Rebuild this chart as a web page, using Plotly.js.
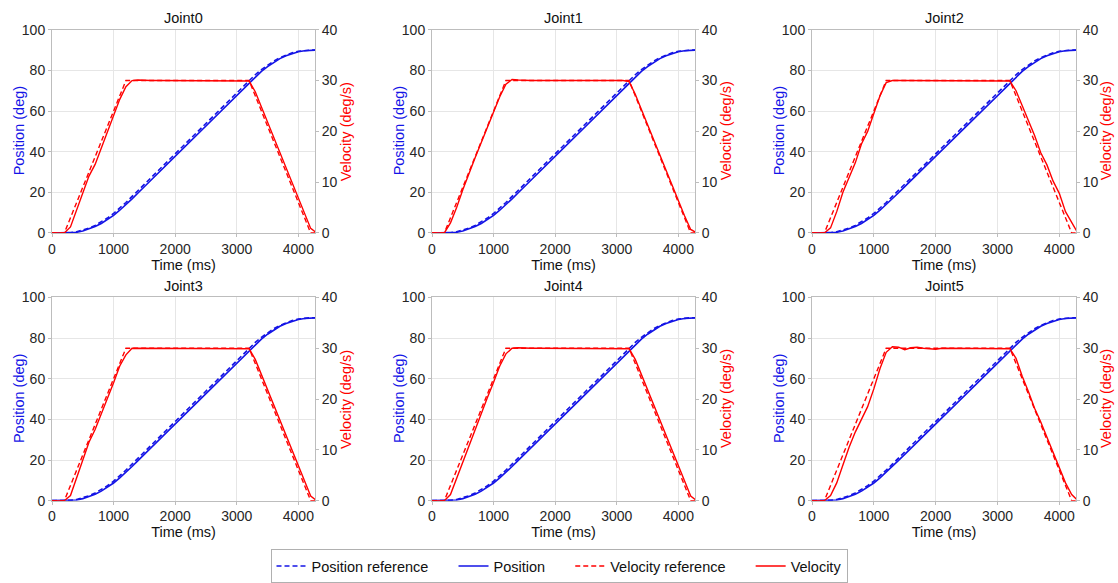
<!DOCTYPE html>
<html>
<head>
<meta charset="utf-8">
<script src="https://cdn.plot.ly/plotly-3.0.1.min.js"></script>
<style>html,body{margin:0;padding:0;background:#fff;}#chart{width:1118px;height:583px;}</style>
</head>
<body>
<div id="chart"></div>
<script>
// ---- data ----
const jointNames = ["Joint0", "Joint1", "Joint2", "Joint3", "Joint4", "Joint5"];

// time samples (ms)
const time = [0,100,200,300,400,500,600,700,800,900,1000,1100,1200,1300,1400,1500,1600,1700,1800,1900,2000,2100,2200,2300,2400,2500,2600,2700,2800,2900,3000,3100,3200,3300,3400,3500,3600,3700,3800,3900,4000,4100,4200,4300];

// reference position (deg), same for all joints
const positionReference = [0,0,0,0.15,0.6,1.35,2.4,3.75,5.4,7.35,9.6,12.15,15,18,21,24,27,30,33,36,39,42,45,48,51,54,57,60,63,66,69,72,75,77.85,80.4,82.65,84.6,86.25,87.6,88.65,89.4,89.85,90,90];

// measured position (deg)
const positionMeasured = [0,0,0,0.05,0.35,1,1.95,3.2,4.7,6.55,8.7,11.2,13.9,16.8,19.8,22.8,25.8,28.8,31.8,34.8,37.8,40.8,43.8,46.8,49.8,52.8,55.8,58.8,61.8,64.8,67.8,70.8,73.8,76.8,79.5,81.9,84,85.8,87.2,88.35,89.15,89.65,89.9,90];

// reference velocity (deg/s), same for all joints
const velocityReference = [0,0,0,3,6,9,12,15,18,21,24,27,30,30,30,30,30,30,30,30,30,30,30,30,30,30,30,30,30,30,30,30,30,27,24,21,18,15,12,9,6,3,0,0];

// measured velocity (deg/s), one list per joint
const velocityJoint0 = [0,0,0,1.2,4.5,8,11.2,13.5,16.8,20,23,26.3,28.8,30,30.1,30,30,30,30,30,30,30,30,30,30,30,30,30,30,30,30,30,29.9,27.8,24.8,21.8,18.7,15.6,12.6,9.6,6.6,3.8,0.9,0];
const velocityJoint1 = [0,0,0,2,5,8.5,11.8,14.8,17.8,20.8,23.8,26.8,29.3,30.2,30.1,30,30,30,30,30,30,30,30,30,30,30,30,30,30,30,30,30,29.8,27.3,24.3,21.3,18.3,15.3,12.3,9.3,6.3,3.4,0.7,0];
const velocityJoint2 = [0,0,0,1,4.2,8,10.8,13.8,17.5,20,23.5,27,29.6,30,30,30,30,30,30,30,30,30,30,30,30,30,30,30,30,30,30,30,29.9,28,25,22,19.2,15.8,13.4,10.2,7.8,4.2,2.2,0];
const velocityJoint3 = [0,0,0,1,4.5,8,11.5,14,17,20.2,23.2,26.5,28.7,30,30,30,30,30,30,30,30,30,30,30,30,30,30,30,30,30,30,30,29.9,27.8,24.8,21.8,18.8,15.8,12.7,9.7,6.7,3.8,0.9,0];
const velocityJoint4 = [0,0,0,1.2,4.4,7.8,11,14,17.2,20.3,23.3,26.5,28.9,30,30.1,30,30,30,30,30,30,30,30,30,30,30,30,30,30,30,30,30,29.9,27.8,24.8,21.8,18.8,15.7,12.7,9.7,6.7,3.7,0.9,0];
const velocityJoint5 = [0,0,0,1,3.5,7,10.5,13.5,16,18.5,22,26,29.2,30.3,30.2,29.7,30.1,30.2,30,29.9,29.8,30,30,30,30,30,30,30,30,30,30,30,29.9,28,24.5,21.5,18.2,15.5,12.5,9.5,6.5,3.5,1.2,0];
const velocityMeasured = [velocityJoint0, velocityJoint1, velocityJoint2, velocityJoint3, velocityJoint4, velocityJoint5];

const xTickValues = [0,1000,2000,3000,4000];
const posTickValues = [0,20,40,60,80,100];
const velTickValues = [0,10,20,30,40];

// ---- styling / layout ----
const BLUE = "#1414e6";
const RED = "#ff0000";
const DASH = "5px,3px";
const FONT = "Liberation Sans, Arial, Helvetica, sans-serif";
const W = 1118, H = 583;
const colPx = [[52,315],[432,695],[812,1076]];
const rowPx = [[30,235],[300,505]];
const SP = "\u00a0\u00a0\u00a0\u00a0\u00a0";

const traces = [];
const layout = {
  width: W, height: H,
  margin: {l:0, r:0, t:0, b:0},
  paper_bgcolor: "#fff", plot_bgcolor: "#fff",
  font: {family: FONT, size: 14, color: "#262626"},
  showlegend: true,
  legend: {
    orientation: "h", x: 0.5, xanchor: "center", y: 1 - 554/H, yanchor: "top",
    bordercolor: "#b0b0b0", borderwidth: 1, font: {size: 14.5, color: "#111"},
    traceorder: "normal", itemwidth: 30
  },
  annotations: []
};

for (let i = 0; i < 6; i++) {
  const col = i % 3, row = Math.floor(i / 3);
  const xd = [colPx[col][0]/W, colPx[col][1]/W];
  const yd = [1 - rowPx[row][1]/H, 1 - rowPx[row][0]/H];
  const yMid = 1 - (rowPx[row][0] + rowPx[row][1]) / 2 / H;
  const xName = i === 0 ? "x" : "x" + (i+1);
  const yL = "y" + (i === 0 ? "" : (2*i+1));
  const yR = "y" + (2*i+2);
  const xKey = "xaxis" + (i === 0 ? "" : (i+1));
  const yLKey = "yaxis" + (i === 0 ? "" : (2*i+1));
  const yRKey = "yaxis" + (2*i+2);

  layout[xKey] = {
    domain: xd, anchor: yL, range: [0, 4270], tickvals: xTickValues,
    showgrid: true, gridcolor: "#e6e6e6", zeroline: false,
    showline: true, mirror: true, linecolor: "#bdbdbd", linewidth: 1,
    ticks: "outside", ticklen: 3, tickcolor: "#bdbdbd",
    tickfont: {size: 14, color: "#262626"},
    title: {text: "Time (ms)", font: {size: 14.5, color: "#111"}, standoff: 1},
    automargin: false, fixedrange: true
  };
  layout[yLKey] = {
    domain: yd, anchor: xName, range: [0, 100], tickvals: posTickValues,
    showgrid: true, gridcolor: "#e6e6e6", zeroline: false,
    showline: true, linecolor: "#bdbdbd", linewidth: 1,
    ticks: "outside", ticklen: 3, tickcolor: "#bdbdbd",
    tickfont: {size: 14, color: "#262626"},
    automargin: false, fixedrange: true
  };
  layout[yRKey] = {
    overlaying: yL, side: "right", anchor: xName, range: [0, 40], tickvals: velTickValues,
    showgrid: false, zeroline: false,
    showline: true, linecolor: "#bdbdbd", linewidth: 1,
    ticks: "outside", ticklen: 3, tickcolor: "#bdbdbd",
    tickfont: {size: 14, color: "#262626"},
    automargin: false, fixedrange: true
  };

  layout.annotations.push({
    xref: "paper", yref: "paper", x: (xd[0]+xd[1])/2, y: 1 - (rowPx[row][0]-12)/H,
    xanchor: "center", yanchor: "middle", text: jointNames[i], showarrow: false,
    font: {size: 14.5, color: "#111"}
  });
  layout.annotations.push({
    xref: "paper", yref: "paper", x: (colPx[col][0] - 33)/W, y: yMid,
    xanchor: "center", yanchor: "middle", textangle: -90, text: "Position (deg)", showarrow: false,
    font: {size: 14.5, color: BLUE}
  });
  layout.annotations.push({
    xref: "paper", yref: "paper", x: (colPx[col][0] + 294)/W, y: yMid,
    xanchor: "center", yanchor: "middle", textangle: -90, text: "Velocity (deg/s)", showarrow: false,
    font: {size: 14.5, color: RED}
  });

  const show = i === 0;
  traces.push({x: time, y: positionReference, xaxis: xName, yaxis: yL, mode: "lines",
    name: "Position reference" + SP, showlegend: show, legendgroup: "pr",
    line: {color: BLUE, width: 1.6, dash: DASH}});
  traces.push({x: time, y: positionMeasured, xaxis: xName, yaxis: yL, mode: "lines",
    name: "Position" + SP, showlegend: show, legendgroup: "p",
    line: {color: BLUE, width: 1.6}});
  traces.push({x: time, y: velocityReference, xaxis: xName, yaxis: yR, mode: "lines",
    name: "Velocity reference" + SP, showlegend: show, legendgroup: "vr",
    line: {color: RED, width: 1.4, dash: DASH}});
  traces.push({x: time, y: velocityMeasured[i], xaxis: xName, yaxis: yR, mode: "lines",
    name: "Velocity", showlegend: show, legendgroup: "v",
    line: {color: RED, width: 1.4}});
}

Plotly.newPlot("chart", traces, layout, {staticPlot: true, displayModeBar: false});
</script>
</body>
</html>
